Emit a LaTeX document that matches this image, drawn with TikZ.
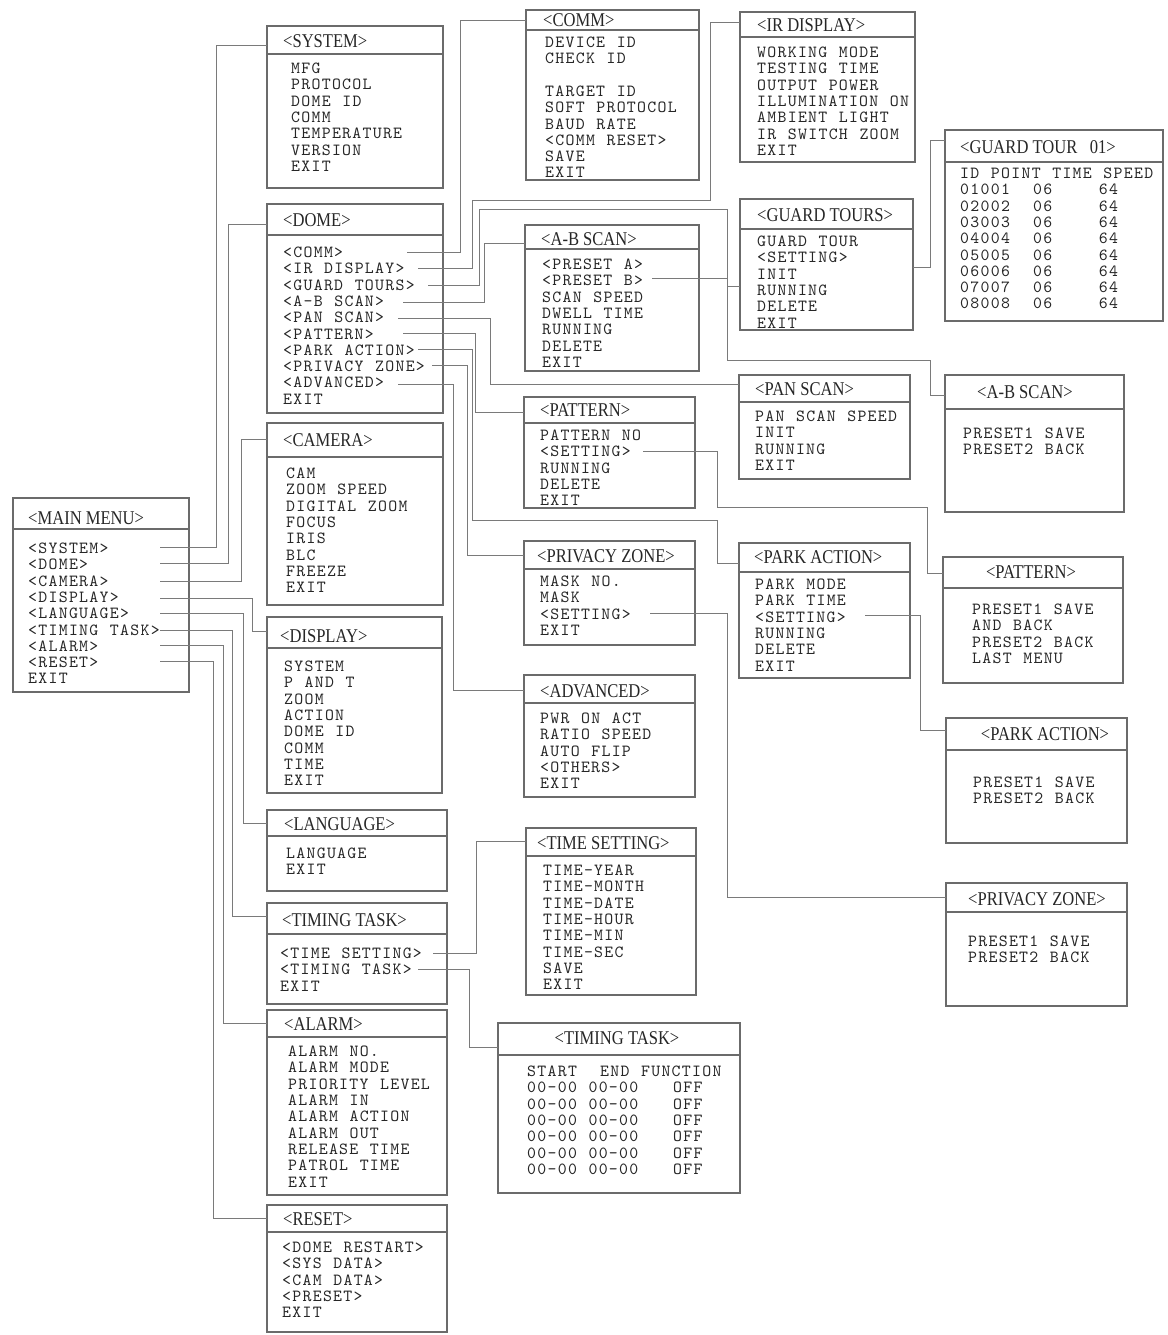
\documentclass[tikz,border=0pt]{standalone}
\usepackage{fontspec}
\setmainfont{Liberation Serif}
\newfontfamily\hdrfamily{Liberation Serif}[FakeStretch=0.85]
\newfontfamily\itmfamily{lmmono10-regular.otf}[LetterSpace=7.5,WordSpace=1.14]
\colorlet{boxcol}{black!58}
\colorlet{linkcol}{black!52}
\colorlet{txtcol}{black!85}
\colorlet{hdrcol}{black!85}
% name x1 y1 x2 y2 ysep
\newcommand\MBox[6]{%
  \node[menubox, minimum width={#4-#2}, minimum height={#5-#3}] (#1) at (#2,#3) {};
  \draw[sepline] (#2,#6) -- (#4,#6);}
\newcommand\MHdr[4]{\node[hdr] (#1-h) at (#2,#3) {#4};}
\newcommand\MHdrC[4]{\node[hdr,anchor=center] (#1-h) at (#2,#3) {#4};}
\newcommand\MItems[4]{\node[itm] (#1-i) at (#2,#3-5.2) {\rule{0pt}{10.4pt}#4};}
\begin{document}
\begin{tikzpicture}[x=1pt,y=-1pt,
  menubox/.style={draw=boxcol,line width=1.3pt,inner sep=0pt,outer sep=0pt,anchor=north west},
  sepline/.style={draw=boxcol,line width=1.3pt},
  link/.style={draw=linkcol,line width=1pt},
  hdr/.style={font=\hdrfamily\fontsize{19.5}{19.5}\selectfont,text=hdrcol,inner sep=0pt,anchor=west,text height=12.8pt,text depth=0pt},
  itm/.style={font=\itmfamily\fontsize{17}{16.3}\selectfont,text=txtcol,inner sep=0pt,anchor=north west,align=left},
]
\useasboundingbox (0,0) rectangle (1167,1335);

% ---------- boxes ----------
\MBox{mm}{13}{498}{189}{692}{529}
\MHdr{mm}{28}{518}{<MAIN MENU>}
\MItems{mm}{28}{548}{<SYSTEM>\\<DOME>\\<CAMERA>\\<DISPLAY>\\<LANGUAGE>\\<TIMING TASK>\\<ALARM>\\<RESET>\\EXIT}

\MBox{sys}{267}{26}{443}{188}{54}
\MHdr{sys}{283}{41}{<SYSTEM>}
\MItems{sys}{291}{68}{MFG\\PROTOCOL\\DOME ID\\COMM\\TEMPERATURE\\VERSION\\EXIT}

\MBox{dome}{267}{204}{443}{413}{235}
\MHdr{dome}{283}{220}{<DOME>}
\MItems{dome}{283}{252}{<COMM>\\<IR DISPLAY>\\<GUARD TOURS>\\<A-B SCAN>\\<PAN SCAN>\\<PATTERN>\\<PARK ACTION>\\<PRIVACY ZONE>\\<ADVANCED>\\EXIT}

\MBox{cam}{267}{423}{443}{605}{457}
\MHdr{cam}{283}{440}{<CAMERA>}
\MItems{cam}{286}{473}{CAM\\ZOOM SPEED\\DIGITAL ZOOM\\FOCUS\\IRIS\\BLC\\FREEZE\\EXIT}

\MBox{disp}{267}{617}{442}{793}{648}
\MHdr{disp}{280}{636}{<DISPLAY>}
\MItems{disp}{284}{666}{SYSTEM\\P AND T\\ZOOM\\ACTION\\DOME ID\\COMM\\TIME\\EXIT}

\MBox{lang}{267}{810}{447}{891}{836}
\MHdr{lang}{284}{824}{<LANGUAGE>}
\MItems{lang}{286}{853}{LANGUAGE\\EXIT}

\MBox{tt}{267}{903}{447}{1004}{934}
\MHdr{tt}{282}{920}{<TIMING TASK>}
\MItems{tt}{280}{953}{<TIME SETTING>\\<TIMING TASK>\\EXIT}

\MBox{alarm}{267}{1010}{447}{1195}{1037}
\MHdr{alarm}{284}{1024}{<ALARM>}
\MItems{alarm}{288}{1051}{ALARM NO.\\ALARM MODE\\PRIORITY LEVEL\\ALARM IN\\ALARM ACTION\\ALARM OUT\\RELEASE TIME\\PATROL TIME\\EXIT}

\MBox{reset}{267}{1205}{447}{1332}{1232}
\MHdr{reset}{283}{1219}{<RESET>}
\MItems{reset}{282}{1247}{<DOME RESTART>\\<SYS DATA>\\<CAM DATA>\\<PRESET>\\EXIT}

\MBox{comm}{526}{10}{699}{180}{30}
\MHdr{comm}{543}{20}{<COMM>}
\MItems{comm}{545}{42}{DEVICE ID\\CHECK ID\\\mbox{}\\TARGET ID\\SOFT PROTOCOL\\BAUD RATE\\<COMM RESET>\\SAVE\\EXIT}

\MBox{abm}{525}{225}{699}{371}{249}
\MHdr{abm}{541}{239}{<A-B SCAN>}
\MItems{abm}{542}{264}{<PRESET A>\\<PRESET B>\\SCAN SPEED\\DWELL TIME\\RUNNING\\DELETE\\EXIT}

\MBox{patm}{524}{397}{695}{508}{423}
\MHdr{patm}{540}{410}{<PATTERN>}
\MItems{patm}{540}{435}{PATTERN NO\\<SETTING>\\RUNNING\\DELETE\\EXIT}

\MBox{privm}{524}{541}{695}{645}{569}
\MHdr{privm}{537}{556}{<PRIVACY ZONE>}
\MItems{privm}{540}{581}{MASK NO.\\MASK\\<SETTING>\\EXIT}

\MBox{adv}{524}{675}{695}{797}{703}
\MHdr{adv}{540}{691}{<ADVANCED>}
\MItems{adv}{540}{718}{PWR ON ACT\\RATIO SPEED\\AUTO FLIP\\<OTHERS>\\EXIT}

\MBox{tset}{526}{828}{696}{995}{856}
\MHdr{tset}{537}{843}{<TIME SETTING>}
\MItems{tset}{543}{870}{TIME-YEAR\\TIME-MONTH\\TIME-DATE\\TIME-HOUR\\TIME-MIN\\TIME-SEC\\SAVE\\EXIT}

\MBox{ttr}{498}{1023}{740}{1193}{1055}
\MHdrC{ttr}{617}{1038}{<TIMING TASK>}
\MItems{ttr}{527}{1071}{START~~END FUNCTION\\00-00 00-00~~~OFF\\00-00 00-00~~~OFF\\00-00 00-00~~~OFF\\00-00 00-00~~~OFF\\00-00 00-00~~~OFF\\00-00 00-00~~~OFF}

\MBox{irb}{740}{12}{915}{162}{37}
\MHdr{irb}{757}{25}{<IR DISPLAY>}
\MItems{irb}{757}{52}{WORKING MODE\\TESTING TIME\\OUTPUT POWER\\ILLUMINATION ON\\AMBIENT LIGHT\\IR SWITCH ZOOM\\EXIT}

\MBox{gts}{740}{199}{913}{330}{229}
\MHdr{gts}{757}{215}{<GUARD TOURS>}
\MItems{gts}{757}{241}{GUARD TOUR\\<SETTING>\\INIT\\RUNNING\\DELETE\\EXIT}

\MBox{gt01}{945}{130}{1163}{321}{162}
\MHdr{gt01}{960}{147}{<GUARD TOUR~~~01>}
\MItems{gt01}{960}{173}{ID POINT TIME SPEED\\01001~~06~~~~64\\02002~~06~~~~64\\03003~~06~~~~64\\04004~~06~~~~64\\05005~~06~~~~64\\06006~~06~~~~64\\07007~~06~~~~64\\08008~~06~~~~64}

\MBox{pscan}{739}{375}{910}{479}{402}
\MHdr{pscan}{755}{389}{<PAN SCAN>}
\MItems{pscan}{755}{416}{PAN SCAN SPEED\\INIT\\RUNNING\\EXIT}

\MBox{parkm}{739}{543}{910}{678}{572}
\MHdr{parkm}{754}{557}{<PARK ACTION>}
\MItems{parkm}{755}{584}{PARK MODE\\PARK TIME\\<SETTING>\\RUNNING\\DELETE\\EXIT}

\MBox{abr}{945}{375}{1124}{512}{409}
\MHdrC{abr}{1025}{392}{<A-B SCAN>}
\MItems{abr}{963}{433}{PRESET1 SAVE\\PRESET2 BACK}

\MBox{patr}{943}{557}{1123}{683}{588}
\MHdrC{patr}{1031}{572}{<PATTERN>}
\MItems{patr}{972}{609}{PRESET1 SAVE\\AND BACK\\PRESET2 BACK\\LAST MENU}

\MBox{parkr}{946}{718}{1127}{843}{750}
\MHdrC{parkr}{1045}{734}{<PARK ACTION>}
\MItems{parkr}{973}{782}{PRESET1 SAVE\\PRESET2 BACK}

\MBox{privr}{946}{883}{1127}{1006}{912}
\MHdrC{privr}{1037}{899}{<PRIVACY ZONE>}
\MItems{privr}{968}{941}{PRESET1 SAVE\\PRESET2 BACK}

% ---------- connector start points ----------
\coordinate (mm-o1) at (160,547);
\coordinate (mm-o2) at (160,563);
\coordinate (mm-o3) at (160,581);
\coordinate (mm-o4) at (160,598);
\coordinate (mm-o5) at (160,613);
\coordinate (mm-o6) at (160,630);
\coordinate (mm-o7) at (160,645);
\coordinate (mm-o8) at (160,661);

\coordinate (dome-o1) at (407,252);
\coordinate (dome-o2) at (418,268);
\coordinate (dome-o3) at (428,285);
\coordinate (dome-o4) at (403,302);
\coordinate (dome-o5) at (398,318);
\coordinate (dome-o6) at (403,333);
\coordinate (dome-o7) at (418,349);
\coordinate (dome-o8) at (432,365);
\coordinate (dome-o9) at (398,384);

\coordinate (abm-o) at (652,278);
\coordinate (patm-o) at (643,451);
\coordinate (parkm-o) at (865,615);
\coordinate (privm-o) at (650,613);
\coordinate (tt-o1) at (433,953);
\coordinate (tt-o2) at (418,969);

% ---------- connectors ----------
\draw[link] (mm-o1) -- (216,547) |- ([yshift=-20pt]sys.north west);
\draw[link] (mm-o2) -- (228,563) |- ([yshift=-20pt]dome.north west);
\draw[link] (mm-o3) -- (241,581) |- ([yshift=-16pt]cam.north west);
\draw[link] (mm-o4) -- (252,598) |- ([yshift=-14pt]disp.north west);
\draw[link] (mm-o5) -- (243,613) |- ([yshift=-13pt]lang.north west);
\draw[link] (mm-o6) -- (232,630) |- ([yshift=-13pt]tt.north west);
\draw[link] (mm-o7) -- (223,645) |- ([yshift=-13pt]alarm.north west);
\draw[link] (mm-o8) -- (213,661) |- ([yshift=-13pt]reset.north west);

\draw[link] (dome-o1) -- (460,252) |- ([yshift=-11pt]comm.north west);
\draw[link] (dome-o2) -- (472,268) -- (472,200) -- (710,200) |- ([yshift=-11pt]irb.north west);
\draw[link] (dome-o3) -- (479,285) -- (479,209) -- (727,209) |- ([yshift=-87pt]gts.north west);
\draw[link] (dome-o4) -- (484,302) |- ([yshift=-18pt]abm.north west);
\draw[link] (dome-o5) -- (490,318) |- ([yshift=-9pt]pscan.north west);
\draw[link] (dome-o6) -- (475,333) |- ([yshift=-15pt]patm.north west);
\draw[link] (dome-o7) -- (472,349) -- (472,520) -- (717,520) |- ([yshift=-20pt]parkm.north west);
\draw[link] (dome-o8) -- (467,365) |- ([yshift=-14pt]privm.north west);
\draw[link] (dome-o9) -- (453,384) |- ([yshift=-15pt]adv.north west);

\draw[link] (abm-o) -- (727,278) -- (727,360) -- (930,360) |- ([yshift=-20pt]abr.north west);
\draw[link] ([yshift=-68pt]gts.north east) -- (930,267) |- ([yshift=-10pt]gt01.north west);
\draw[link] (patm-o) -- (717,451) -- (717,507) -- (927,507) |- ([yshift=-16pt]patr.north west);
\draw[link] (parkm-o) -- (920,615) |- ([yshift=-12pt]parkr.north west);
\draw[link] (privm-o) -- (727,613) |- ([yshift=-14pt]privr.north west);
\draw[link] (tt-o1) -- (476,953) |- ([yshift=-13pt]tset.north west);
\draw[link] (tt-o2) -- (469,969) |- ([yshift=-24pt]ttr.north west);
\end{tikzpicture}
\end{document}
